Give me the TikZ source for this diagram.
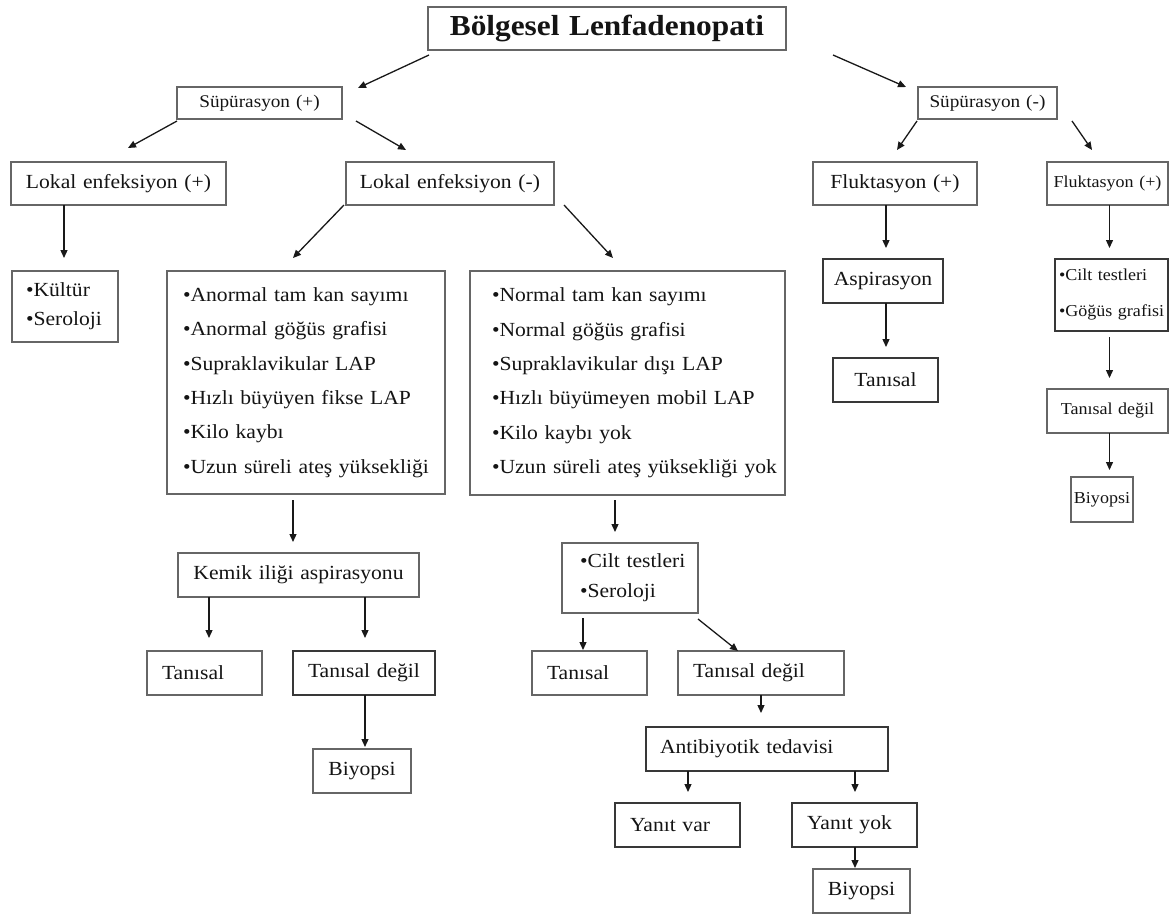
\documentclass[tikz,border=0pt]{standalone}
\usepackage{fontspec}
\setmainfont{Liberation Serif}[FakeStretch=1.08]
\usetikzlibrary{arrows.meta}
\newcommand{\bx}[8][]{%
  \pgfmathsetmacro\bxw{#5-#3}%
  \pgfmathsetmacro\bxh{#6-#4}%
  \pgfmathsetmacro\bxt{#5-#3-2*#7}%
  \node[box,inner xsep=#7pt,minimum width=\bxw pt,minimum height=\bxh pt,text width=\bxt pt,#1] (#2) at ({(#3+#5)/2},{-(#4+#6)/2}) {#8};}
\tikzset{
  box/.style={draw=black!60, line width=1.4pt, inner ysep=2pt, outer sep=0pt, align=left, text=black!92,
    font=\fontsize{20}{24}\selectfont},
  heavy/.style={draw=black!78, line width=1.9pt},
  small/.style={font=\fontsize{17.8}{21}\selectfont},
  rcol/.style={font=\fontsize{16.7}{20}\selectfont},
  arr/.style={draw=black!90, line width=1.3pt, -{Triangle[length=8pt,width=7pt]}}
}
\begin{document}
\begin{tikzpicture}[x=1pt,y=1pt]
\fill[white] (0,0) rectangle (1171,-916);
\useasboundingbox (0,0) rectangle (1171,-916);
% boxes
\bx[font=\fontsize{29}{33}\selectfont\bfseries, align=center]{title}{428}{7}{786}{50}{10}{\mbox{Bölgesel Lenfadenopati}}
\bx[small, align=center]{sp}{177}{87}{342}{119}{8}{\mbox{Süpürasyon (+)}}
\bx[small, align=center]{sm}{918}{87}{1057}{119}{8}{\mbox{Süpürasyon (-)}}
\bx[align=center]{le1}{11}{162}{226}{205}{8}{\mbox{Lokal enfeksiyon (+)}}
\bx[align=center]{le2}{346}{162}{554}{205}{8}{\mbox{Lokal enfeksiyon (-)}}
\bx[align=center]{fl1}{813}{162}{977}{205}{8}{\mbox{Fluktasyon (+)}}
\bx[rcol, align=center]{fl2}{1047}{162}{1168}{205}{5}{\mbox{Fluktasyon (+)}}
\bx[font=\fontsize{20}{29}\selectfont]{kul}{12}{271}{118}{342}{14}{\mbox{•Kültür}\\\mbox{•Seroloji}}
\bx[font=\fontsize{20}{34.4}\selectfont]{an}{167}{271}{445}{494}{16}{\mbox{•Anormal tam kan sayımı}\\\mbox{•Anormal göğüs grafisi}\\\mbox{•Supraklavikular LAP}\\\mbox{•Hızlı büyüyen fikse LAP}\\\mbox{•Kilo kaybı}\\\mbox{•Uzun süreli ateş yüksekliği}}
\bx[font=\fontsize{20}{34.4}\selectfont]{no}{470}{271}{785}{495}{22}{\mbox{•Normal tam kan sayımı}\\\mbox{•Normal göğüs grafisi}\\\mbox{•Supraklavikular dışı LAP}\\\mbox{•Hızlı büyümeyen mobil LAP}\\\mbox{•Kilo kaybı yok}\\\mbox{•Uzun süreli ateş yüksekliği yok}}
\bx[heavy, align=center]{asp}{823}{259}{943}{303}{6}{\mbox{Aspirasyon}}
\bx[heavy, align=center]{tr}{833}{358}{938}{402}{6}{\mbox{Tanısal}}
\bx[heavy, font=\fontsize{16.7}{36}\selectfont]{cg}{1055}{259}{1168}{331}{4}{\mbox{•Cilt testleri}\\\mbox{•Göğüs grafisi}}
\bx[rcol, align=center]{tdr}{1047}{389}{1168}{433}{3}{\mbox{Tanısal değil}}
\bx[rcol, align=center]{byr}{1071}{477}{1133}{522}{2}{\mbox{Biyopsi}}
\bx[align=center]{kem}{178}{553}{419}{597}{8}{\mbox{Kemik iliği aspirasyonu}}
\bx{tl}{147}{651}{262}{695}{15}{\mbox{Tanısal}}
\bx[heavy, align=center]{tdl}{293}{651}{435}{695}{8}{\mbox{Tanısal değil}}
\bx[align=center]{byl}{313}{749}{411}{793}{6}{\mbox{Biyopsi}}
\bx[font=\fontsize{20}{30}\selectfont]{cs}{562}{543}{698}{613}{18}{\mbox{•Cilt testleri}\\\mbox{•Seroloji}}
\bx{tm}{532}{651}{647}{695}{15}{\mbox{Tanısal}}
\bx{tdm}{678}{651}{844}{695}{15}{\mbox{Tanısal değil}}
\bx[heavy]{ab}{646}{727}{888}{771}{14}{\mbox{Antibiyotik tedavisi}}
\bx[heavy]{yv}{615}{803}{740}{847}{15}{\mbox{Yanıt var}}
\bx[heavy]{yy}{792}{803}{917}{847}{15}{\mbox{Yanıt yok}}
\bx[align=center]{byb}{813}{869}{910}{913}{6}{\mbox{Biyopsi}}
% connectors
\draw[arr] ([shift={(1,-5)}]title.south west) -- ([shift={(16,-1)}]sp.north east);
\draw[arr] ([shift={(47,-5)}]title.south east) -- ([shift={(-12,0)}]sm.north west);
\draw[arr] ([shift={(0,-2)}]sp.south west) -- ([shift={(9.5,14)}]le1.north);
\draw[arr] ([shift={(14,-2)}]sp.south east) -- ([shift={(-44,12)}]le2.north);
\draw[arr] ([shift={(-1,-2)}]sm.south west) -- ([shift={(2,12)}]fl1.north);
\draw[arr] ([shift={(15,-2)}]sm.south east) -- ([shift={(-15.5,12)}]fl2.north);
\draw[arr] ([shift={(-54.5,0)}]le1.south) -- ([shift={(-1,13)}]kul.north);
\draw[arr] ([shift={(-2,0)}]le2.south west) -- ([shift={(-13,13)}]an.north);
\draw[arr] ([shift={(10,0)}]le2.south east) -- ([shift={(-14.5,13)}]no.north);
\draw[arr] ([shift={(-9,0)}]fl1.south) -- ([shift={(3,11)}]asp.north);
\draw[arr] ([shift={(3,0)}]asp.south) -- ([shift={(0.5,11)}]tr.north);
\draw[arr] ([shift={(2,0)}]fl2.south) -- ([shift={(-2,11)}]cg.north);
\draw[arr] ([shift={(-2,-6)}]cg.south) -- ([shift={(2,11)}]tdr.north);
\draw[arr] ([shift={(2,0)}]tdr.south) -- ([shift={(7.5,7)}]byr.north);
\draw[arr] ([shift={(-13,-6)}]an.south) -- ([shift={(-5.5,11)}]kem.north);
\draw[arr] ([shift={(-12.5,-5)}]no.south) -- ([shift={(-15,11)}]cs.north);
\draw[arr] ([shift={(31,0)}]kem.south west) -- ([shift={(4.5,13)}]tl.north);
\draw[arr] ([shift={(-54,0)}]kem.south east) -- ([shift={(1,13)}]tdl.north);
\draw[arr] ([shift={(1,0)}]tdl.south) -- ([shift={(3,2)}]byl.north);
\draw[arr] ([shift={(21,-5)}]cs.south west) -- ([shift={(-6.5,1)}]tm.north);
\draw[arr] ([shift={(0,-6)}]cs.south east) -- ([shift={(-23,0)}]tdm.north);
\draw[arr] (tdm.south) -- ([shift={(0,14)}]ab.north -| tdm.south);
\draw[arr] ([shift={(42,0)}]ab.south west) -- ([shift={(10.5,11)}]yv.north);
\draw[arr] ([shift={(-33,0)}]ab.south east) -- ([shift={(0.5,11)}]yy.north);
\draw[arr] ([shift={(0.5,0)}]yy.south) -- ([shift={(-6.5,1)}]byb.north);
\end{tikzpicture}
\end{document}
